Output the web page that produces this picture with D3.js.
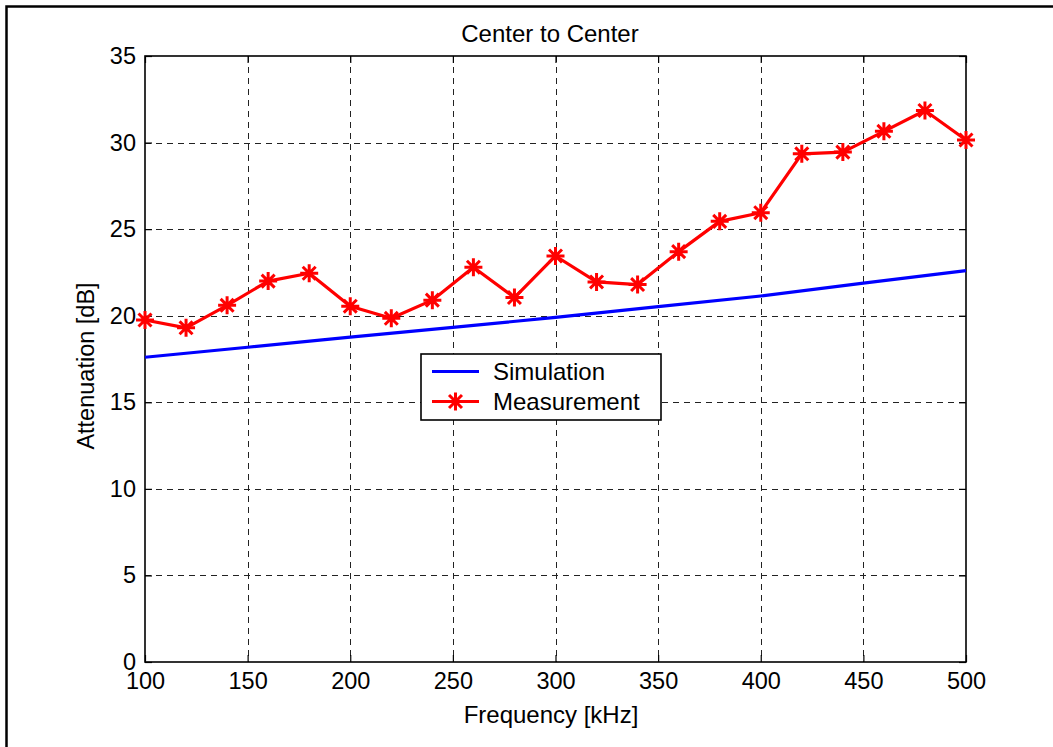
<!DOCTYPE html>
<html>
<head>
<meta charset="utf-8">
<script src="https://cdn.jsdelivr.net/npm/d3@7"></script>
<style>
  html, body { margin: 0; padding: 0; background: #fff; }
  svg { display: block; }
  text { font-family: Arial, "Liberation Sans", sans-serif; fill: #000; }
</style>
</head>
<body>
<svg id="chart" width="1053" height="747"></svg>
<script>
// Measured attenuation, sampled every 20 kHz
const measFreq = [100,120,140,160,180,200,220,240,260,280,300,320,340,360,380,400,420,440,460,480,500];
const measAtt  = [19.75,19.3,20.6,22.0,22.45,20.55,19.85,20.9,22.8,21.05,23.45,21.95,21.8,23.7,25.45,25.95,29.35,29.45,30.65,31.85,30.15];

// Simulated attenuation
const simFreq = [100,150,200,250,300,350,400,450,500];
const simAtt  = [17.6,18.18,18.76,19.33,19.9,20.52,21.14,21.88,22.6];

const xTicks = [100,150,200,250,300,350,400,450,500];
const yTicks = [0,5,10,15,20,25,30,35];

const svg = d3.select("#chart");
const plot = { left: 145, right: 966, top: 56, bottom: 662 };
const fontSize = 23.5;

// Outer figure frame
svg.append("rect")
  .attr("x", 6.5).attr("y", 6.5)
  .attr("width", 1100).attr("height", 800)
  .attr("fill", "#fff").attr("stroke", "#000").attr("stroke-width", 2.5);

const x = d3.scaleLinear().domain([100, 500]).range([plot.left, plot.right]);
const y = d3.scaleLinear().domain([0, 35]).range([plot.bottom, plot.top]);

// Dashed grid
const grid = svg.append("g").attr("stroke", "#222").attr("stroke-width", 1)
  .attr("stroke-dasharray", "6,5");
grid.selectAll("line.vx").data(xTicks.slice(1, -1)).join("line")
  .attr("x1", d => Math.round(x(d)) + 0.5).attr("x2", d => Math.round(x(d)) + 0.5)
  .attr("y1", plot.top).attr("y2", plot.bottom);
grid.selectAll("line.hy").data(yTicks.slice(1, -1)).join("line")
  .attr("y1", d => Math.round(y(d)) + 0.5).attr("y2", d => Math.round(y(d)) + 0.5)
  .attr("x1", plot.left).attr("x2", plot.right);

// Axes with inward ticks on all four sides
const tickLen = 7;
const axBottom = d3.axisBottom(x).tickValues(xTicks).tickSize(-tickLen).tickPadding(10);
const axTop = d3.axisTop(x).tickValues(xTicks).tickSize(-tickLen).tickFormat("");
const axLeft = d3.axisLeft(y).tickValues(yTicks).tickSize(-tickLen).tickPadding(9);
const axRight = d3.axisRight(y).tickValues(yTicks).tickSize(-tickLen).tickFormat("");

function styleAxis(g) {
  g.select(".domain").remove();
  g.selectAll(".tick line").attr("stroke", "#000").attr("stroke-width", 1.2);
  g.selectAll(".tick text").attr("font-size", fontSize).attr("fill", "#000")
    .attr("font-family", "Arial, 'Liberation Sans', sans-serif");
}
svg.append("g").attr("transform", `translate(0,${plot.bottom})`).call(axBottom).call(styleAxis);
svg.append("g").attr("transform", `translate(0,${plot.top})`).call(axTop).call(styleAxis);
svg.append("g").attr("transform", `translate(${plot.left},0)`).call(axLeft).call(styleAxis);
svg.append("g").attr("transform", `translate(${plot.right},0)`).call(axRight).call(styleAxis);

// Axes box
svg.append("rect")
  .attr("x", plot.left).attr("y", plot.top)
  .attr("width", plot.right - plot.left).attr("height", plot.bottom - plot.top)
  .attr("fill", "none").attr("stroke", "#000").attr("stroke-width", 1.6);

const line = d3.line().x(d => x(d[0])).y(d => y(d[1]));

// Simulation curve
svg.append("path")
  .datum(simFreq.map((f, i) => [f, simAtt[i]]))
  .attr("d", line).attr("fill", "none")
  .attr("stroke", "#0000ff").attr("stroke-width", 3.2);

// Measurement curve with asterisk markers
const measData = measFreq.map((f, i) => [f, measAtt[i]]);
svg.append("path")
  .datum(measData)
  .attr("d", line).attr("fill", "none")
  .attr("stroke", "#ff0000").attr("stroke-width", 3.2).attr("stroke-linejoin", "round");

function asterisk(g, cx, cy, r) {
  const d = r * 0.72;
  g.append("path")
    .attr("d", `M${cx},${cy - r}L${cx},${cy + r}M${cx - r},${cy}L${cx + r},${cy}` +
               `M${cx - d},${cy - d}L${cx + d},${cy + d}M${cx - d},${cy + d}L${cx + d},${cy - d}`)
    .attr("stroke", "#ff0000").attr("stroke-width", 3).attr("fill", "none");
}
const markers = svg.append("g");
measData.forEach(d => asterisk(markers, x(d[0]), y(d[1]), 9));

// Title and axis labels
svg.append("text").attr("x", 550).attr("y", 42)
  .attr("text-anchor", "middle").attr("font-size", 24).text("Center to Center");
svg.append("text").attr("x", 551).attr("y", 723)
  .attr("text-anchor", "middle").attr("font-size", 24).text("Frequency [kHz]");
svg.append("text")
  .attr("transform", `translate(94,${366}) rotate(-90)`)
  .attr("text-anchor", "middle").attr("font-size", fontSize).text("Attenuation [dB]");

// Legend
const lg = svg.append("g");
lg.append("rect").attr("x", 421).attr("y", 354).attr("width", 240).attr("height", 66)
  .attr("fill", "#fff").attr("stroke", "#000").attr("stroke-width", 1.6);
const legendItems = [
  { name: "Simulation", color: "#0000ff", marker: false, cy: 371.5 },
  { name: "Measurement", color: "#ff0000", marker: true, cy: 401.5 }
];
legendItems.forEach(it => {
  lg.append("line").attr("x1", 432).attr("x2", 479).attr("y1", it.cy).attr("y2", it.cy)
    .attr("stroke", it.color).attr("stroke-width", 3.2);
  if (it.marker) asterisk(lg, 455.5, it.cy, 9);
  lg.append("text").attr("x", 493).attr("y", it.cy + 8).attr("font-size", 24).text(it.name);
});
</script>
</body>
</html>
